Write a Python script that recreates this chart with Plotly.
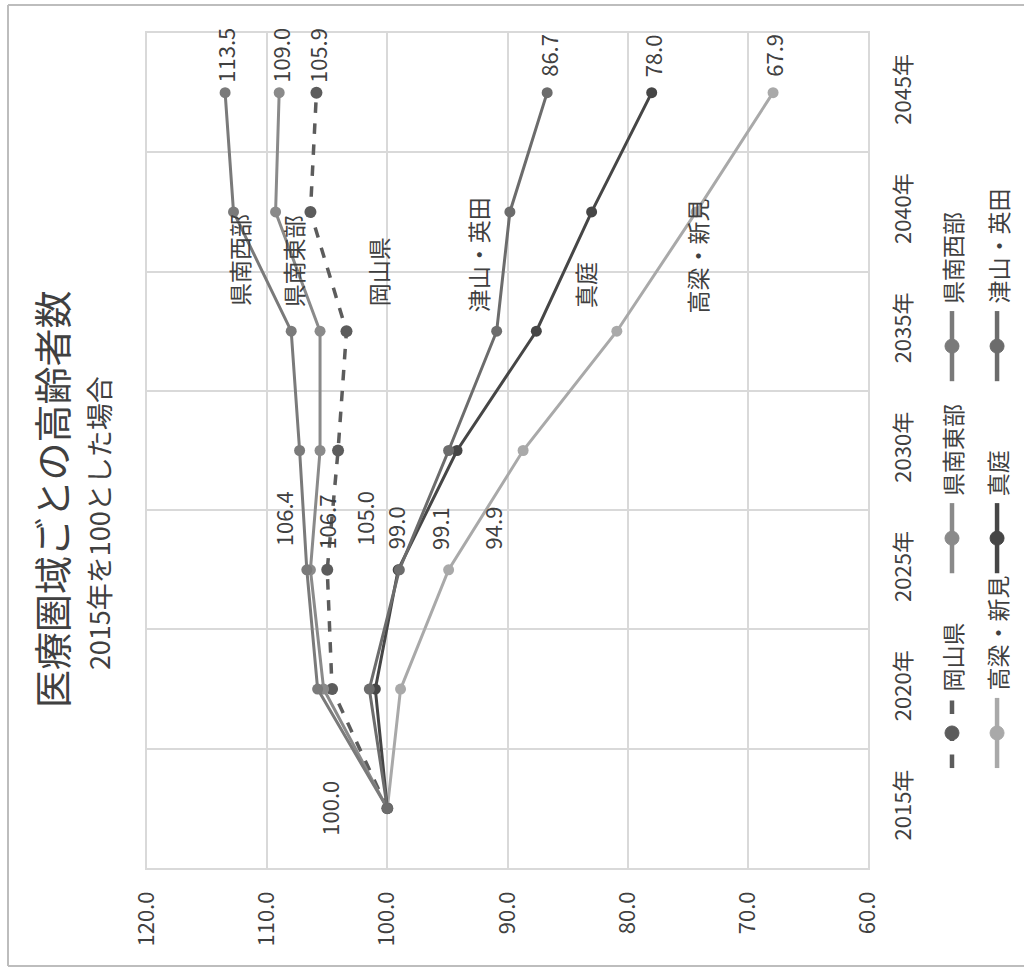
import plotly.graph_objects as go

# ---------------- data ----------------
years = ["2015年", "2020年", "2025年", "2030年", "2035年", "2040年", "2045年"]
series_names = ["岡山県", "県南東部", "県南西部", "高梁・新見", "真庭", "津山・英田"]

okayama = [100.0, 104.6, 105.0, 104.1, 103.4, 106.4, 105.9]
kennan_tobu = [100.0, 105.3, 106.4, 105.6, 105.6, 109.3, 109.0]
kennan_seibu = [100.0, 105.8, 106.7, 107.3, 108.0, 112.8, 113.5]
takahashi_niimi = [100.0, 98.9, 94.9, 88.7, 80.9, 74.3, 67.9]
maniwa = [100.0, 101.0, 99.1, 94.2, 87.6, 83.0, 78.0]
tsuyama_aida = [100.0, 101.5, 99.0, 94.9, 90.9, 89.8, 86.7]

values = [okayama, kennan_tobu, kennan_seibu, takahashi_niimi, maniwa, tsuyama_aida]
x_ticks = [120, 110, 100, 90, 80, 70, 60]

title_text = "医療圏域ごとの高齢者数"
subtitle_text = "2015年を100とした場合"

# ---------------- styles ----------------
colors = ["#5c5c5c", "#8a8a8a", "#7a7a7a", "#a9a9a9", "#464646", "#6c6c6c"]
dashes = ["dash", "solid", "solid", "solid", "solid", "solid"]
FONT = "Noto Sans CJK JP, Noto Sans, sans-serif"
TXT = "#404040"
GRID = "#d9d9d9"

# label offsets (pixels) for the 2025 value labels, per series
off2025 = {
    "岡山県": (37, 51), "県南東部": (-28, 51), "県南西部": (19, 48),
    "高梁・新見": (43, 42), "真庭": (41, 41), "津山・英田": (-5, 42),
}
# series name label positions (value axis, category index)
name_pos = {
    "県南西部": (112.4, 4.60), "県南東部": (107.9, 4.59), "岡山県": (100.8, 4.50),
    "津山・英田": (92.5, 4.64), "真庭": (83.6, 4.39), "高梁・新見": (74.2, 4.63),
}
# legend layout: (paper x column, paper y glyph center)
leg_pos = {
    "岡山県": (1.1165, 0.1617), "高梁・新見": (1.179, 0.1617),
    "県南東部": (1.1165, 0.395), "真庭": (1.179, 0.395),
    "県南西部": (1.1165, 0.625), "津山・英田": (1.179, 0.625),
}

fig = go.Figure()
for name, vals, col, dsh in zip(series_names, values, colors, dashes):
    fig.add_trace(go.Scatter(
        x=vals, y=years, mode="lines+markers", name=name,
        line=dict(color=col, width=3.5 if dsh == "dash" else 3, dash=dsh),
        marker=dict(color=col, size=12 if dsh == "dash" else 11),
        showlegend=False,
    ))

annotations = []
# value labels
for name, vals in zip(series_names, values):
    # 2045
    annotations.append(dict(
        x=vals[6], y=6, xref="x", yref="y", text=f"{vals[6]:.1f}",
        textangle=-90, showarrow=False, xanchor="center", yanchor="middle",
        yshift=37, font=dict(size=22, color=TXT, family=FONT)))
    # 2025
    dx, dy = off2025[name]
    annotations.append(dict(
        x=vals[2], y=2, xref="x", yref="y", text=f"{vals[2]:.1f}",
        textangle=-90, showarrow=False, xanchor="center", yanchor="middle",
        xshift=dx, yshift=dy, font=dict(size=22, color=TXT, family=FONT)))
# 2015 label (common base)
annotations.append(dict(
    x=okayama[0], y=0, xref="x", yref="y", text=f"{okayama[0]:.1f}",
    textangle=-90, showarrow=False, xanchor="center", yanchor="middle",
    xshift=-58, font=dict(size=22, color=TXT, family=FONT)))

# series name labels inside plot
for name in series_names:
    px, py = name_pos[name]
    annotations.append(dict(
        x=px, y=py, xref="x", yref="y", text=name, textangle=-90,
        showarrow=False, xanchor="center", yanchor="middle",
        font=dict(size=23, color=TXT, family=FONT)))

# titles
annotations.append(dict(
    x=-0.133, y=0.442, xref="paper", yref="paper", text=title_text,
    textangle=-90, showarrow=False, xanchor="center", yanchor="middle",
    font=dict(size=38, color=TXT, family=FONT)))
annotations.append(dict(
    x=-0.068, y=0.413, xref="paper", yref="paper", text=subtitle_text,
    textangle=-90, showarrow=False, xanchor="center", yanchor="middle",
    font=dict(size=27, color=TXT, family=FONT)))

shapes = []
# custom rotated legend
half = 0.042
rx, ry = 7 / 721, 7 / 835
for name, col, dsh in zip(series_names, colors, dashes):
    lx, ly = leg_pos[name]
    shapes.append(dict(type="line", xref="paper", yref="paper",
                       x0=lx, x1=lx, y0=ly - half, y1=ly + half,
                       line=dict(color=col, width=4.5, dash="dash" if dsh == "dash" else "solid")))
    shapes.append(dict(type="circle", xref="paper", yref="paper",
                       x0=lx - rx, x1=lx + rx, y0=ly - ry, y1=ly + ry,
                       fillcolor=col, line=dict(color=col, width=1)))
    annotations.append(dict(
        x=lx, y=ly + half + 0.006, xref="paper", yref="paper", text=name,
        textangle=-90, showarrow=False, xanchor="center", yanchor="bottom",
        font=dict(size=23, color=TXT, family=FONT)))

# outer chart frame (left, top, bottom)
fx0, fx1 = (8 - 147) / 721, (1024 - 147) / 721
fy0, fy1 = (868 - 966) / 835, (868 - 5) / 835
for x0, y0, x1, y1 in [(fx0, fy0, fx0, fy1), (fx0, fy1, fx1, fy1), (fx0, fy0, fx1, fy0)]:
    shapes.append(dict(type="line", xref="paper", yref="paper", x0=x0, y0=y0, x1=x1, y1=y1,
                       line=dict(color="#bdbdbd", width=2)))

fig.update_layout(
    width=1024, height=973,
    margin=dict(l=147, r=156, t=33, b=105),
    paper_bgcolor="white", plot_bgcolor="white",
    font=dict(family=FONT, size=22, color=TXT),
    annotations=annotations, shapes=shapes,
    xaxis=dict(
        range=[120, 60], tickvals=x_ticks, ticktext=[f"{v:.1f}" for v in x_ticks],
        tickangle=-90, showgrid=True, gridcolor=GRID, gridwidth=1.5,
        zeroline=False, showline=True, mirror=True, linecolor=GRID, linewidth=1.5,
        ticks="", ticklabelstandoff=13, tickfont=dict(size=22, color=TXT),
    ),
    yaxis=dict(
        type="category", categoryorder="array", categoryarray=years,
        range=[-0.5, 6.5], side="right", tickangle=-90, tickson="boundaries",
        showgrid=True, gridcolor=GRID, gridwidth=1.5, zeroline=False,
        showline=True, mirror=True, linecolor=GRID, linewidth=1.5,
        ticks="", ticklabelstandoff=15, tickfont=dict(size=22, color=TXT),
    ),
)

fig.write_html("out.html")
